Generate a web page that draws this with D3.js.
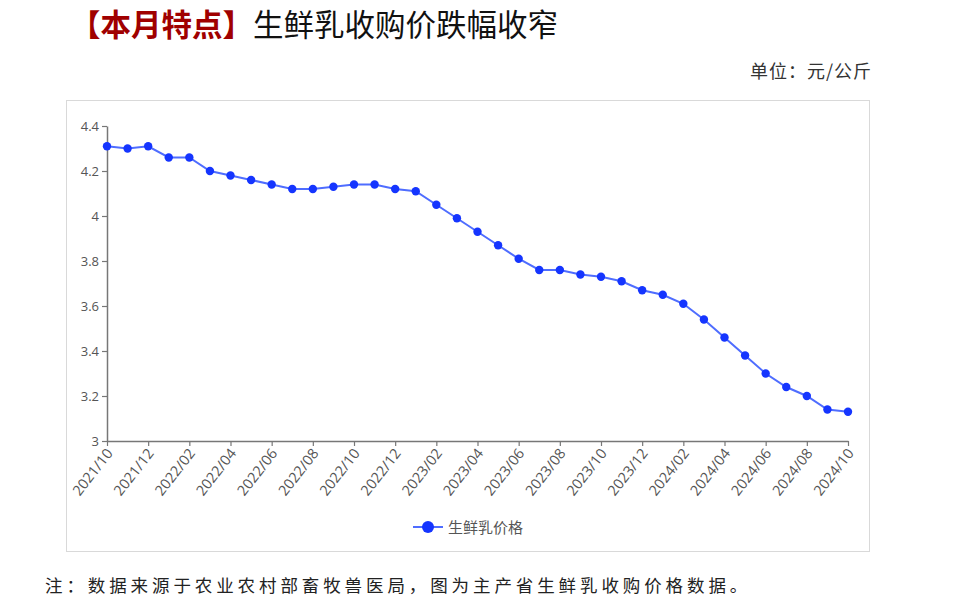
<!DOCTYPE html>
<html><head><meta charset="utf-8">
<script src="https://cdn.jsdelivr.net/npm/d3@7"></script>
<style>body{margin:0;background:#fff;}svg{display:block;}</style>
</head><body>
<svg id="c" width="960" height="607"></svg>
<script>
const months = ["2021/10","2021/11","2021/12","2022/01","2022/02","2022/03","2022/04","2022/05","2022/06","2022/07","2022/08","2022/09","2022/10","2022/11","2022/12","2023/01","2023/02","2023/03","2023/04","2023/05","2023/06","2023/07","2023/08","2023/09","2023/10","2023/11","2023/12","2024/01","2024/02","2024/03","2024/04","2024/05","2024/06","2024/07","2024/08","2024/09","2024/10"];
const prices = [4.31,4.30,4.31,4.26,4.26,4.20,4.18,4.16,4.14,4.12,4.12,4.13,4.14,4.14,4.12,4.11,4.05,3.99,3.93,3.87,3.81,3.76,3.76,3.74,3.73,3.71,3.67,3.65,3.61,3.54,3.46,3.38,3.30,3.24,3.20,3.14,3.13];
const yTicks = [3,3.2,3.4,3.6,3.8,4,4.2,4.4];
const seriesName = "生鲜乳价格";
const titleRed = "【本月特点】";
const titleBlack = "生鲜乳收购价跌幅收窄";
const unitText = "单位：元/公斤";
const noteText = "注：数据来源于农业农村部畜牧兽医局，图为主产省生鲜乳收购价格数据。";

const svg = d3.select("#c");
const cjk = "'Noto Sans CJK SC', sans-serif";

// title
const t = svg.append("text").attr("x", 70).attr("y", 36).attr("font-family", cjk).attr("font-size", 30.5);
t.append("tspan").attr("fill", "#a00000").attr("font-weight", "bold").text(titleRed);
t.append("tspan").attr("fill", "#111").text(titleBlack);

svg.append("text").attr("x", 872).attr("y", 78).attr("text-anchor", "end")
  .attr("font-family", cjk).attr("font-size", 18).attr("letter-spacing", 1).attr("fill", "#333").text(unitText);

// chart frame
svg.append("rect").attr("x", 66.5).attr("y", 100.5).attr("width", 803).attr("height", 451)
  .attr("fill", "none").attr("stroke", "#d9d9d9");

const x = d3.scalePoint().domain(months).range([107, 848]);
const y = d3.scaleLinear().domain([3, 4.4]).range([441, 126]);

const xTickVals = months.filter((d, i) => i % 2 === 0);
const gx = svg.append("g").attr("transform", "translate(0,441)")
  .call(d3.axisBottom(x).tickValues(xTickVals).tickSize(5).tickSizeOuter(0));
gx.selectAll("text").attr("y", 0).attr("dy", 0)
  .attr("transform", "translate(3,10) rotate(-52)").attr("text-anchor", "end")
  .attr("dominant-baseline", "middle").attr("font-size", 14.5)
  .attr("font-family", "'Open Sans', sans-serif").attr("fill", "#555");

const gy = svg.append("g").attr("transform", "translate(107,0)")
  .call(d3.axisLeft(y).tickValues(yTicks).tickFormat(d3.format("~g")).tickSize(5).tickSizeOuter(0));
gy.selectAll("text").attr("font-size", 13).attr("font-family", "'Open Sans', sans-serif").attr("fill", "#555");

[gx, gy].forEach(g => {
  g.select(".domain").attr("stroke", "#777").attr("stroke-width", 1.5);
  g.selectAll(".tick line").attr("stroke", "#777").attr("stroke-width", 1.2);
});

const line = d3.line().x((d, i) => x(months[i])).y(d => y(d));
svg.append("path").datum(prices).attr("d", line).attr("fill", "none")
  .attr("stroke", "#4f6dff").attr("stroke-width", 2);
svg.selectAll("circle.pt").data(prices).join("circle").attr("class", "pt")
  .attr("cx", (d, i) => x(months[i])).attr("cy", d => y(d)).attr("r", 4.2)
  .attr("fill", "#1535ff");

// legend
const lg = svg.append("g").attr("transform", "translate(413,527)");
lg.append("line").attr("x1", 0).attr("x2", 30).attr("stroke", "#4f6dff").attr("stroke-width", 2);
lg.append("circle").attr("cx", 15).attr("r", 6).attr("fill", "#1535ff");
lg.append("text").attr("x", 35).attr("y", 5.5).attr("font-family", cjk).attr("font-size", 15)
  .attr("fill", "#555").text(seriesName);

svg.append("text").attr("x", 45).attr("y", 592).attr("font-family", cjk).attr("font-size", 17.5)
  .attr("letter-spacing", 3.9).attr("fill", "#222").text(noteText);
</script>
</body></html>
